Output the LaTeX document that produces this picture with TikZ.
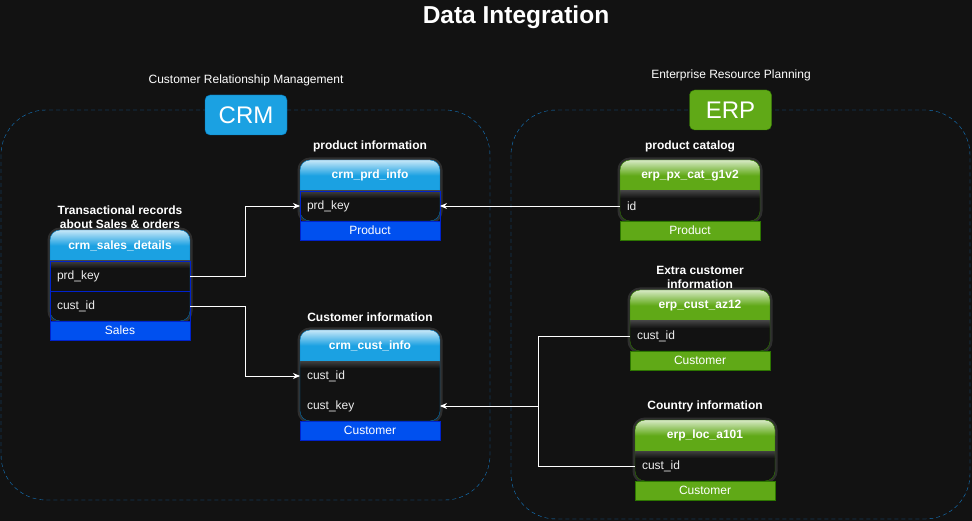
\documentclass[tikz,border=0pt]{standalone}
\usepackage{fontspec}
\setmainfont{Liberation Sans}
\usetikzlibrary{positioning, backgrounds, arrows.meta}
\definecolor{bgColor}{HTML}{121212}
\definecolor{crmColor}{HTML}{1BA1E2}
\definecolor{crmLine}{HTML}{006EAF}
\definecolor{keyColor}{HTML}{0050EF}
\definecolor{keyLine}{HTML}{0022CC}
\definecolor{erpColor}{HTML}{60A917}
\definecolor{erpLine}{HTML}{2D7600}
\definecolor{groupLine}{HTML}{1479C4}
\definecolor{textColor}{HTML}{EEEEEE}

\tikzset{
    tblhead/.style={minimum width=140pt, minimum height=31pt, inner sep=0pt, outer sep=0pt,
        font=\fontsize{12}{14}\selectfont\bfseries, text=white},
    tblrow/.style={text width=126pt, inner xsep=7pt, inner ysep=0pt, minimum height=30pt,
        outer sep=0pt, align=left, font=\fontsize{12}{14}\selectfont, text=textColor},
    crmfoot/.style={minimum width=140pt, minimum height=19pt, inner sep=0pt, outer sep=0pt,
        fill=keyColor, draw=keyLine, font=\fontsize{12}{14}\selectfont, text=white},
    erpfoot/.style={crmfoot, fill=erpColor, draw=erpLine},
    caption/.style={font=\fontsize{12}{14}\selectfont\bfseries, text=white, align=center, inner sep=1pt},
    tag/.style={minimum width=82pt, minimum height=40pt, rounded corners=5pt,
        font=\fontsize{24}{28}\selectfont, text=white},
    group/.style={draw=groupLine, dash pattern=on 4pt off 3pt, rounded corners=45pt},
    link/.style={draw=white, line width=0.9pt, -{Stealth[length=7pt, width=6pt]}},
    line/.style={draw=white, line width=0.9pt}
}

% body of a table: header node, last row node, header colour, border colour
\newcommand{\tblbody}[4]{%
    \begin{scope}[on background layer]
        \draw[white, opacity=0.12, line width=5pt, rounded corners=10pt] (#1.north west) rectangle (#2.south east);
        \begin{scope}
            \clip[rounded corners=10pt] (#1.north west) rectangle (#2.south east);
            \fill[bgColor] (#1.north west) rectangle (#2.south east);
            \fill[#3] (#1.north west) rectangle (#1.south east);
            \shade[top color=white!75!#3, bottom color=#3] (#1.north west) rectangle (#1.east);
            \shade[top color=gray!50!black, bottom color=bgColor] (#1.south west) rectangle ++(140,7);
        \end{scope}
    \end{scope}
    \draw[#4, rounded corners=10pt] (#1.north west) rectangle (#2.south east);
}

\begin{document}
\begin{tikzpicture}[x=1pt, y=-1pt]
    \useasboundingbox (0,0) rectangle (972,521);
    \begin{scope}[on background layer]
        \fill[bgColor] (0,0) rectangle (972,521);
        \draw[group] (1,110) rectangle (490,500);
        \draw[group] (511,110) rectangle (970,519);
    \end{scope}

    \node[font=\fontsize{24.5}{28}\selectfont\bfseries, text=white] (title) at (516,17) {Data Integration};

    % groups
    \node[font=\fontsize{12}{14}\selectfont, text=white] (crmname) at (246,80) {Customer Relationship Management};
    \node[tag, fill=crmColor, draw=crmLine] (crmtag) at (246,115) {CRM};
    \node[font=\fontsize{12}{14}\selectfont, text=white] (erpname) at (731,75) {Enterprise Resource Planning};
    \node[tag, fill=erpColor, draw=erpLine] (erptag) at (730.5,110) {ERP};

    % crm_sales_details
    \node[tblhead, anchor=north west] (salesh) at (50,230) {crm\_sales\_details};
    \node[tblrow, below=0pt of salesh] (salesp) {prd\_key};
    \node[tblrow, below=0pt of salesp] (salesc) {cust\_id};
    \node[crmfoot, below=0pt of salesc] (salesf) {Sales};
    \node[caption, above=0pt of salesh] (salescap) {Transactional records\\about Sales \& orders};
    \tblbody{salesh}{salesc}{crmColor}{crmLine}
    \draw[keyLine] (salesp.north west) rectangle (salesc.south east) (salesp.south west) -- (salesp.south east);

    % crm_prd_info
    \node[tblhead, anchor=north west] (prdh) at (300,160) {crm\_prd\_info};
    \node[tblrow, below=0pt of prdh] (prdk) {prd\_key};
    \node[crmfoot, below=0pt of prdk] (prdf) {Product};
    \node[caption, above=7pt of prdh] (prdcap) {product information};
    \tblbody{prdh}{prdk}{crmColor}{crmLine}
    \draw[keyLine] (prdk.north west) rectangle (prdk.south east);

    % crm_cust_info
    \node[tblhead, anchor=north west] (custh) at (300,330) {crm\_cust\_info};
    \node[tblrow, below=0pt of custh] (custi) {cust\_id};
    \node[tblrow, below=0pt of custi] (custk) {cust\_key};
    \node[crmfoot, below=0pt of custk] (custf) {Customer};
    \node[caption, above=7pt of custh] (custcap) {Customer information};
    \tblbody{custh}{custk}{crmColor}{crmLine}

    % erp_px_cat_g1v2
    \node[tblhead, anchor=north west] (pxh) at (620,160) {erp\_px\_cat\_g1v2};
    \node[tblrow, below=0pt of pxh] (pxid) {id};
    \node[erpfoot, below=0pt of pxid] (pxf) {Product};
    \node[caption, above=7pt of pxh] (pxcap) {product catalog};
    \tblbody{pxh}{pxid}{erpColor}{erpLine}

    % erp_cust_az12
    \node[tblhead, anchor=north west] (azh) at (630,290) {erp\_cust\_az12};
    \node[tblrow, below=0pt of azh] (azid) {cust\_id};
    \node[erpfoot, below=0pt of azid] (azf) {Customer};
    \node[caption, above=0pt of azh] (azcap) {Extra customer\\information};
    \tblbody{azh}{azid}{erpColor}{erpLine}

    % erp_loc_a101
    \node[tblhead, anchor=north west] (loch) at (635,420) {erp\_loc\_a101};
    \node[tblrow, below=0pt of loch] (locid) {cust\_id};
    \node[erpfoot, below=0pt of locid] (locf) {Customer};
    \node[caption, above=7pt of loch] (loccap) {Country information};
    \tblbody{loch}{locid}{erpColor}{erpLine}

    % links
    \draw[link] (salesp.east) -- ++(55,0) |- (prdk.west);
    \draw[link] (salesc.east) -- ++(55,0) |- (custi.west);
    \draw[link] (pxid.west) -- (prdk.east);
    \coordinate (erpjoin) at (538,406);
    \draw[link] (azid.west) -| (erpjoin) -- (custk.east);
    \draw[line] (locid.west) -| (erpjoin);
\end{tikzpicture}
\end{document}
